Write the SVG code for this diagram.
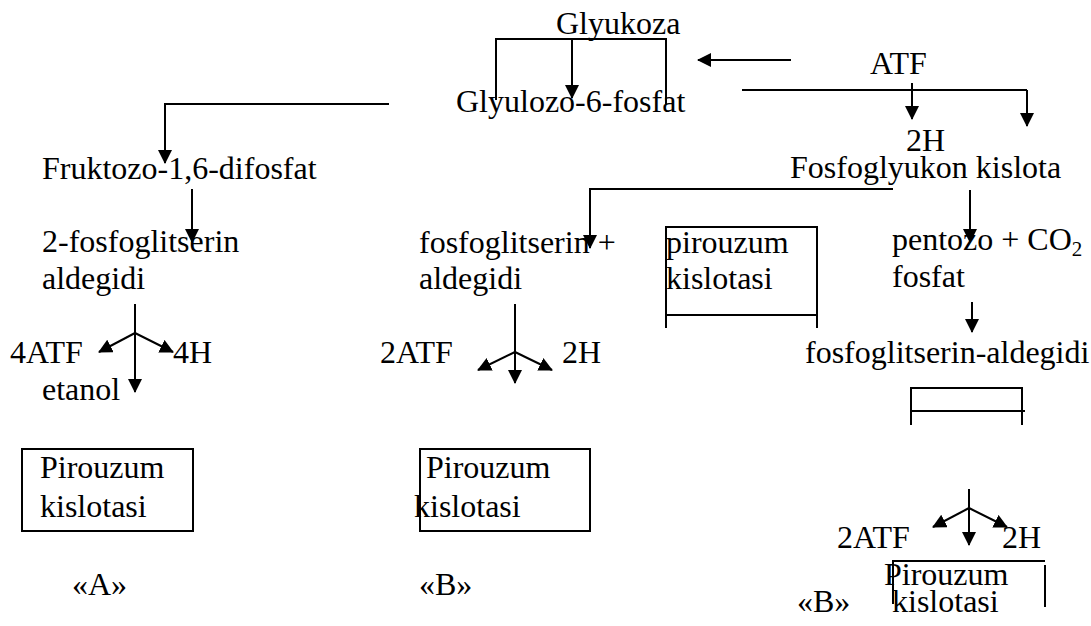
<svg xmlns="http://www.w3.org/2000/svg" width="1091" height="626" viewBox="0 0 1091 626">
  <style>
    text { font-family: "Liberation Serif", "Times New Roman", serif; font-size: 32px; fill: #000; }
    .ln { stroke: #000; stroke-width: 2; fill: none; }
    .arr { stroke: #000; stroke-width: 2; fill: none; marker-end: url(#head); }
    .sub { font-size: 21px; }
  </style>
  <defs>
    <marker id="head" viewBox="0 0 14 14" markerWidth="14" markerHeight="14" refX="13" refY="7" orient="auto" markerUnits="userSpaceOnUse">
      <path d="M0,0 L14,7 L0,14 z" fill="#000"/>
    </marker>
  </defs>
  <rect width="1091" height="626" fill="#fff"/>

  <!-- connectors -->
  <g id="connectors">
    <!-- bracket under Glyukoza -->
    <polyline class="ln" points="496,100 496,39 666,39 666,105"/>
    <line class="arr" x1="572" y1="39" x2="572" y2="98"/>
    <!-- ATF feeds the first step -->
    <line class="arr" x1="791" y1="60" x2="698" y2="60"/>
    <!-- oxidative branch -->
    <line class="ln" x1="742" y1="90" x2="1027" y2="90"/>
    <line class="arr" x1="912" y1="83" x2="912" y2="119"/>
    <line class="arr" x1="1027" y1="90" x2="1027" y2="126"/>
    <!-- to fructose bisphosphate -->
    <polyline class="arr" points="389,104 165,104 165,163"/>
    <line class="arr" x1="192" y1="189" x2="192" y2="242"/>
    <!-- from phosphogluconic acid -->
    <polyline class="arr" points="893,189 590,189 590,248"/>
    <line class="arr" x1="970" y1="190" x2="970" y2="242"/>
    <line class="arr" x1="972" y1="302" x2="972" y2="332"/>
    <!-- branch A fork -->
    <line class="arr" x1="135" y1="304" x2="135" y2="392"/>
    <line class="arr" x1="135" y1="333" x2="99" y2="352"/>
    <line class="arr" x1="135" y1="333" x2="173" y2="352"/>
    <!-- branch B fork -->
    <line class="arr" x1="515" y1="304" x2="515" y2="383"/>
    <line class="arr" x1="515" y1="352" x2="478" y2="370"/>
    <line class="arr" x1="515" y1="352" x2="552" y2="370"/>
    <!-- right fork -->
    <line class="arr" x1="969" y1="489" x2="969" y2="545"/>
    <line class="arr" x1="969" y1="508" x2="933" y2="527"/>
    <line class="arr" x1="969" y1="508" x2="1007" y2="527"/>
  </g>

  <g id="glyukoza"><text x="556" y="34">Glyukoza</text></g>
  <g id="atf-top"><text x="870" y="74">ATF</text></g>
  <g id="glyulozo"><text x="456" y="112">Glyulozo-6-fosfat</text></g>
  <g id="h2-top"><text x="906" y="151">2H</text></g>
  <g id="fruktozo"><text x="42" y="179">Fruktozo-1,6-difosfat</text></g>
  <g id="fosfoglyukon"><text x="790" y="178">Fosfoglyukon kislota</text></g>

  <!-- column A -->
  <g id="a-aldegid">
    <text x="42" y="252">2-fosfoglitserin</text>
    <text x="42" y="289">aldegidi</text>
  </g>
  <g id="a-products">
    <text x="10" y="363">4ATF</text>
    <text x="173" y="363">4H</text>
    <text x="42" y="400">etanol</text>
  </g>
  <g id="a-piruvat">
    <rect class="ln" x="22" y="449" width="171" height="82"/>
    <text x="40" y="478">Pirouzum</text>
    <text x="40" y="517">kislotasi</text>
  </g>
  <g id="a-label"><text x="72" y="595">«A»</text></g>

  <!-- column B -->
  <g id="b-aldegid">
    <text x="419" y="253">fosfoglitserin +</text>
    <text x="419" y="289">aldegidi</text>
  </g>
  <g id="b-pirouzum-top">
    <polyline class="ln" points="666,328 666,227 817,227 817,328"/>
    <line class="ln" x1="666" y1="315" x2="817" y2="315"/>
    <text x="666" y="253">pirouzum</text>
    <text x="666" y="289">kislotasi</text>
  </g>
  <g id="b-products">
    <text x="380" y="363">2ATF</text>
    <text x="562" y="363">2H</text>
  </g>
  <g id="b-piruvat">
    <rect class="ln" x="420" y="449" width="170" height="82"/>
    <text x="426" y="478">Pirouzum</text>
    <text x="414" y="517">kislotasi</text>
  </g>
  <g id="b-label"><text x="419" y="595">«B»</text></g>

  <!-- pentose column -->
  <g id="pentozo">
    <text x="892" y="250">pentozo + CO<tspan class="sub" dy="6">2</tspan></text>
    <text x="892" y="287">fosfat</text>
  </g>
  <g id="c-aldegid"><text x="805" y="363">fosfoglitserin-aldegidi</text></g>
  <g id="c-box">
    <polyline class="ln" points="911,425 911,388 1022,388 1022,425"/>
    <line class="ln" x1="911" y1="411" x2="1025" y2="411"/>
  </g>
  <g id="c-products">
    <text x="837" y="548">2ATF</text>
    <text x="1002" y="548">2H</text>
  </g>
  <g id="c-piruvat">
    <polyline class="ln" points="893,604 893,561 1045,561"/>
    <line class="ln" x1="1045" y1="565" x2="1045" y2="607"/>
    <text x="884" y="585">Pirouzum</text>
    <text x="892" y="612">kislotasi</text>
  </g>
  <g id="c-label"><text x="797" y="612">«B»</text></g>
</svg>
